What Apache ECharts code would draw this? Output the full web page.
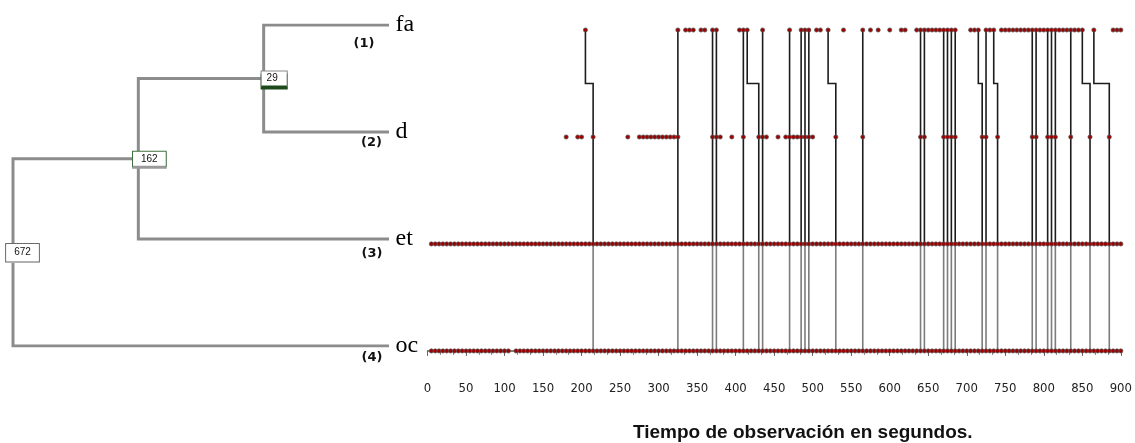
<!DOCTYPE html>
<html lang="es">
<head>
<meta charset="UTF-8">
<title>Dendrograma y tiempo de observación</title>
<script src="https://cdn.jsdelivr.net/npm/echarts@6/dist/echarts.min.js"></script>
<style>
  html, body { margin: 0; padding: 0; background: #fff; }
  #chart { width: 1135px; height: 443px; }
</style>
</head>
<body>
<div id="chart"></div>
<script>
// hojas del dendrograma, de arriba abajo
const leafNames = ['fa', 'd', 'et', 'oc'];
const leafTags = ['(1)', '(2)', '(3)', '(4)'];
// uniones: hijos (0-3 hojas, 4.. uniones anteriores) y valor del nodo
const merges = [[0, 1], [4, 2], [5, 3]];
const mergeValues = ['29', '162', '672'];

// una observación cada 5 s (posición 1 = 5 s ... 180 = 900 s), grupos de 10 = 50 s
const stepSeconds = 5;
const faMask =
  '0000000000 0000000000 0000000000 0000000000 1000000000 0000000000 0000101110 1101100000 1110001000 ' +
  '0001001110 1101000100 0010101001 0011001111 1111111000 1110111011 1111111111 1111111111 0010000111';
const dMask =
  '0000000000 0000000000 0000000000 0000010011 0010000000 0100111111 1111100000 0001110010 0100011100 ' +
  '1011111111 0000010000 0010000000 0000000110 0001111000 0001100100 0000001100 1110001000 0100001000';
const etMask =
  '1111111111 1111111111 1111111111 1111111111 1111111111 1111111111 1111111111 1111111111 1111111111 ' +
  '1111111111 1111111111 1111111111 1111111111 1111111111 1111111111 1111111111 1111111111 1111111111';
const ocMask =
  '1111111111 1111111111 1011111111 1111111111 1111111111 1111111111 1111111111 1111111111 1111111111 ' +
  '1111111111 1111111111 1111111111 1111111111 1111111111 1111111111 1111111111 1111111111 1111111111';

// cambios: segundo en que sale de fa y segundo en que baja hasta oc
const switchFrom = [205, 325, 370, 375, 410, 415, 435, 470, 485, 490, 495, 520, 565, 640, 645,
                    670, 675, 680, 685, 715, 725, 735, 785, 790, 805, 810, 815, 835, 850, 865];
const switchTo   = [215, 325, 370, 375, 410, 430, 435, 470, 485, 490, 495, 530, 565, 640, 645,
                    670, 675, 680, 685, 720, 725, 740, 785, 790, 805, 810, 815, 835, 860, 885];

const xMin = 0, xMax = 900, xStep = 50;
const axisTitle = 'Tiempo de observación en segundos.';

// niveles de las filas: fa=3, d=2, et=1, oc=0
function maskToPoints(mask, level) {
  const bits = mask.replace(/\s/g, '');
  const pts = [];
  for (let i = 0; i < bits.length; i++) {
    if (bits[i] === '1') pts.push([(i + 1) * stepSeconds, level]);
  }
  return pts;
}

const dots = [].concat(
  maskToPoints(faMask, 3),
  maskToPoints(dMask, 2),
  maskToPoints(etMask, 1),
  maskToPoints(ocMask, 0)
);

const upperPaths = switchFrom.map((t, i) => ({
  coords: [[t, 3], [t, 2.5], [switchTo[i], 2.5], [switchTo[i], 1]]
}));
const lowerPaths = switchTo.map(t => ({ coords: [[t, 1], [t, 0]] }));

// posiciones del dendrograma (x = orden de unión, y = fila)
const nodeX = leafNames.map(() => 0);
const nodeY = leafNames.map((_, i) => leafNames.length - 1 - i);
merges.forEach((pair, k) => {
  nodeX.push(k + 1);
  nodeY.push((nodeY[pair[0]] + nodeY[pair[1]]) / 2);
});
const branchPaths = merges.map((pair, k) => {
  const n = leafNames.length + k;
  const a = pair[0], b = pair[1];
  return {
    coords: [[nodeX[a], nodeY[a]], [nodeX[n], nodeY[a]], [nodeX[n], nodeY[b]], [nodeX[b], nodeY[b]]]
  };
});

const boxStyles = [
  { borderColor: '#8a8a8a', shadowColor: '#1c4a1c', shadowOffsetY: 3, padding: [2, 9, 1, 5], offset: [10.5, 0] },
  { borderColor: '#3f6f3f', shadowColor: '#9a9a9a', shadowOffsetY: 2, padding: [2, 8, 1, 8], offset: [11, 0] },
  { borderColor: '#6a6a6a', shadowColor: '#b0b0b0', shadowOffsetY: 1, padding: [3, 8, 3, 8], offset: [9.5, 0] }
];
const nodeData = mergeValues.map((v, k) => {
  const n = leafNames.length + k;
  const s = boxStyles[k];
  return {
    value: [nodeX[n], nodeY[n]],
    label: {
      formatter: v,
      borderColor: s.borderColor,
      shadowColor: s.shadowColor,
      shadowOffsetY: s.shadowOffsetY,
      padding: s.padding,
      offset: s.offset
    }
  };
});

const tagOffsets = [[-25, 19], [-17.5, 11], [-17, 15], [-17, 12]];
const leafData = leafNames.map((name, i) => ({ value: [0, nodeY[i]], name: name }));
const tagData = leafTags.map((tag, i) => ({
  value: [0, nodeY[i]],
  name: tag,
  label: { offset: tagOffsets[i] }
}));

const hiddenPoint = { color: 'transparent', opacity: 1 };

const chart = echarts.init(document.getElementById('chart'));
chart.setOption({
  animation: false,
  backgroundColor: '#fff',
  title: {
    text: axisTitle,
    left: 633,
    top: 423,
    padding: 0,
    textStyle: { fontFamily: 'Liberation Sans, Arial, sans-serif', fontSize: 19, fontWeight: 'bold', color: '#111' }
  },
  grid: [
    { left: 427.5, top: 30, width: 694.5, height: 337 },
    { left: 13, top: 25, width: 376, height: 321 }
  ],
  xAxis: [
    {
      type: 'value', gridIndex: 0, min: xMin, max: xMax, interval: xStep,
      axisLine: { lineStyle: { color: '#555', width: 1.5 } },
      axisTick: { length: 5, lineStyle: { color: '#666' } },
      minorTick: { show: true, splitNumber: 3, length: 4, lineStyle: { color: '#888' } },
      splitLine: { show: false },
      axisLabel: {
        margin: 15, fontSize: 13, color: '#222',
        fontFamily: "'DejaVu Sans Condensed', 'Liberation Sans Narrow', 'Liberation Sans', sans-serif"
      }
    },
    { type: 'value', gridIndex: 1, min: 0, max: 3, inverse: true, show: false }
  ],
  yAxis: [
    { type: 'value', gridIndex: 0, min: -0.15, max: 3, show: false },
    { type: 'value', gridIndex: 1, min: 0, max: 3, show: false }
  ],
  series: [
    {
      type: 'lines', coordinateSystem: 'cartesian2d', xAxisIndex: 0, yAxisIndex: 0,
      polyline: true, silent: true, z: 2,
      lineStyle: { color: '#1c1c1c', width: 1.6, opacity: 1 },
      data: upperPaths
    },
    {
      type: 'lines', coordinateSystem: 'cartesian2d', xAxisIndex: 0, yAxisIndex: 0,
      polyline: true, silent: true, z: 2,
      lineStyle: { color: '#7c7c7c', width: 1.6, opacity: 1 },
      data: lowerPaths
    },
    {
      type: 'scatter', xAxisIndex: 0, yAxisIndex: 0, z: 3, silent: true,
      symbol: 'circle', symbolSize: 4.2,
      itemStyle: { color: '#9e0000', borderColor: '#555', borderWidth: 0.7, opacity: 1 },
      data: dots
    },
    {
      type: 'lines', coordinateSystem: 'cartesian2d', xAxisIndex: 1, yAxisIndex: 1,
      polyline: true, silent: true, z: 2,
      lineStyle: { color: '#8c8c8c', width: 3, opacity: 1 },
      data: branchPaths
    },
    {
      type: 'scatter', xAxisIndex: 1, yAxisIndex: 1, z: 4, silent: true,
      symbolSize: 1, itemStyle: hiddenPoint,
      label: {
        show: true, position: 'inside',
        fontFamily: 'Liberation Sans, Arial, sans-serif', fontSize: 10, lineHeight: 11, color: '#111',
        backgroundColor: '#fff', borderWidth: 1, shadowBlur: 0
      },
      data: nodeData
    },
    {
      type: 'scatter', xAxisIndex: 1, yAxisIndex: 1, z: 4, silent: true,
      symbolSize: 1, itemStyle: hiddenPoint,
      label: {
        show: true, position: 'right', distance: 6,
        formatter: p => p.name,
        fontFamily: "'Liberation Serif', 'Times New Roman', serif", fontSize: 24, color: '#000'
      },
      data: leafData
    },
    {
      type: 'scatter', xAxisIndex: 1, yAxisIndex: 1, z: 4, silent: true,
      symbolSize: 1, itemStyle: hiddenPoint,
      label: {
        show: true, position: 'inside',
        formatter: p => p.name,
        fontFamily: "'DejaVu Sans', Verdana, sans-serif", fontSize: 13, fontWeight: 'bold', color: '#111'
      },
      data: tagData
    }
  ]
});
</script>
</body>
</html>
